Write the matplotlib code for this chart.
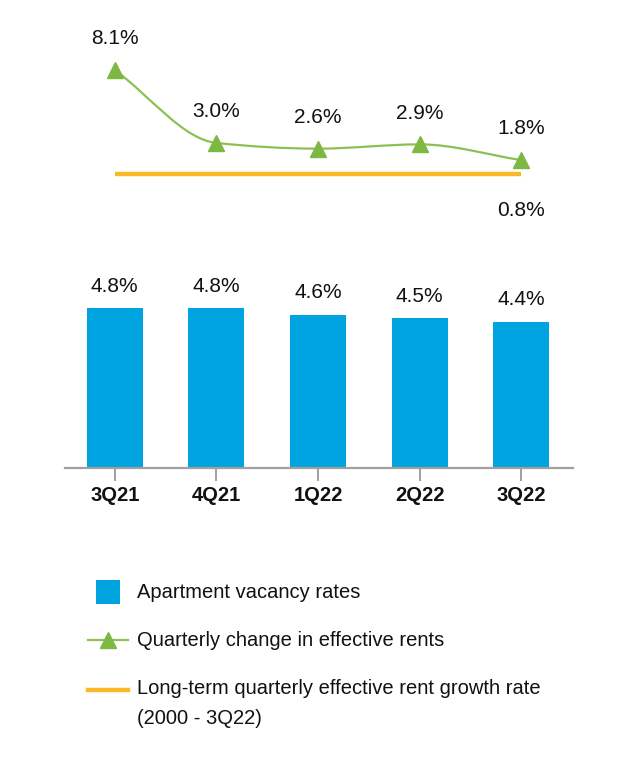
import matplotlib
matplotlib.use("Agg")
import matplotlib.pyplot as plt
from matplotlib.path import Path
from matplotlib.patches import PathPatch, Rectangle
from matplotlib.lines import Line2D
import numpy as np

plt.rcParams['font.family'] = ['Liberation Sans', 'DejaVu Sans']

quarters = ['3Q21', '4Q21', '1Q22', '2Q22', '3Q22']
vacancy = [4.8, 4.8, 4.6, 4.5, 4.4]
rent_change = [8.1, 3.0, 2.6, 2.9, 1.8]
long_term = 0.8

BAR_C = '#00A4E0'
GREEN_M = '#7DB843'
GREEN_L = '#8CC152'
ORANGE = '#FBB829'
GRAY = '#A0A0A0'

W, H = 636, 770
fig = plt.figure(figsize=(W / 100, H / 100), dpi=100)

def frac(x0, y0, x1, y1):
    return [x0 / W, 1 - y1 / H, (x1 - x0) / W, (y1 - y0) / H]

x = np.arange(len(quarters))
xl = (-0.49, 4.51)

# ---- top: line chart ----
axt = fig.add_axes(frac(65, 30, 573, 230))
axt.set_xlim(*xl)
axt.set_ylim(-3.09, 10.9)
axt.axis('off')

# monotone cubic (Fritsch-Carlson) path as Bezier segments
y = np.array(rent_change, dtype=float)
d = np.diff(y)
m = np.zeros_like(y)
m[0], m[-1] = d[0], d[-1]
for i in range(1, len(y) - 1):
    if d[i - 1] * d[i] <= 0:
        m[i] = 0
    else:
        m[i] = 2 / (1 / d[i - 1] + 1 / d[i])
verts = [(x[0], y[0])]
codes = [Path.MOVETO]
for i in range(len(y) - 1):
    verts += [(x[i] + 1 / 3, y[i] + m[i] / 3), (x[i + 1] - 1 / 3, y[i + 1] - m[i + 1] / 3), (x[i + 1], y[i + 1])]
    codes += [Path.CURVE4] * 3
axt.add_patch(PathPatch(Path(verts, codes), fill=False, edgecolor=GREEN_L, lw=1.6, zorder=2))
axt.plot(x, rent_change, ls='none', marker='^', ms=11, color=GREEN_M, zorder=3)
axt.hlines(long_term, x[0], x[-1], color=ORANGE, lw=3.2, zorder=1)

for xi, v in zip(x, rent_change):
    axt.annotate(f'{v:.1f}%', (xi, v), xytext=(0, 22.5), textcoords='offset points',
                 ha='center', va='center', fontsize=15, color='#111111')
axt.annotate(f'{long_term:.1f}%', (x[-1], long_term), xytext=(0, -26), textcoords='offset points',
             ha='center', va='center', fontsize=15, color='#111111')

# ---- bottom: bar chart ----
axb = fig.add_axes(frac(65, 260, 573, 468))
axb.set_xlim(*xl)
axb.set_ylim(0, 6.25)
axb.bar(x, vacancy, width=0.55, color=BAR_C, zorder=2)
for s in ['top', 'right', 'left']:
    axb.spines[s].set_visible(False)
axb.spines['bottom'].set_color(GRAY)
axb.spines['bottom'].set_linewidth(1.6)
axb.set_yticks([])
axb.set_xticks(x)
axb.set_xticklabels(quarters, fontsize=14.5, fontweight='bold', color='#111111')
axb.tick_params(axis='x', length=9, width=1.4, color=GRAY, pad=4)
for xi, v in zip(x, vacancy):
    axb.annotate(f'{v:.1f}%', (xi, v), xytext=(0, 16), textcoords='offset points',
                 ha='center', va='center', fontsize=15, color='#111111')

# ---- legend (manual, figure coordinates) ----
def fx(px):
    return px / W

def fy(py):
    return 1 - py / H

fig.patches.append(Rectangle((fx(96), fy(604)), 24 / W, 24 / H, transform=fig.transFigure,
                             facecolor=BAR_C, edgecolor='none'))
fig.text(fx(137), fy(593), 'Apartment vacancy rates', fontsize=14.5, va='center', ha='left', color='#111111')

fig.lines.append(Line2D([fx(88), fx(128)], [fy(640), fy(640)], transform=fig.transFigure,
                        color=GREEN_L, lw=1.6))
fig.lines.append(Line2D([fx(108)], [fy(640)], transform=fig.transFigure, marker='^', ms=11,
                        color=GREEN_M, ls='none'))
fig.text(fx(137), fy(640), 'Quarterly change in effective rents', fontsize=14.5, va='center', ha='left', color='#111111')

fig.lines.append(Line2D([fx(88), fx(128)], [fy(690), fy(690)], transform=fig.transFigure,
                        color=ORANGE, lw=3.2))
fig.text(fx(137), fy(688), 'Long-term quarterly effective rent growth rate', fontsize=14.5, va='center', ha='left', color='#111111')
fig.text(fx(137), fy(719), '(2000 - 3Q22)', fontsize=14.5, va='center', ha='left', color='#111111')

fig.savefig('out.png', dpi=100, facecolor='white')
